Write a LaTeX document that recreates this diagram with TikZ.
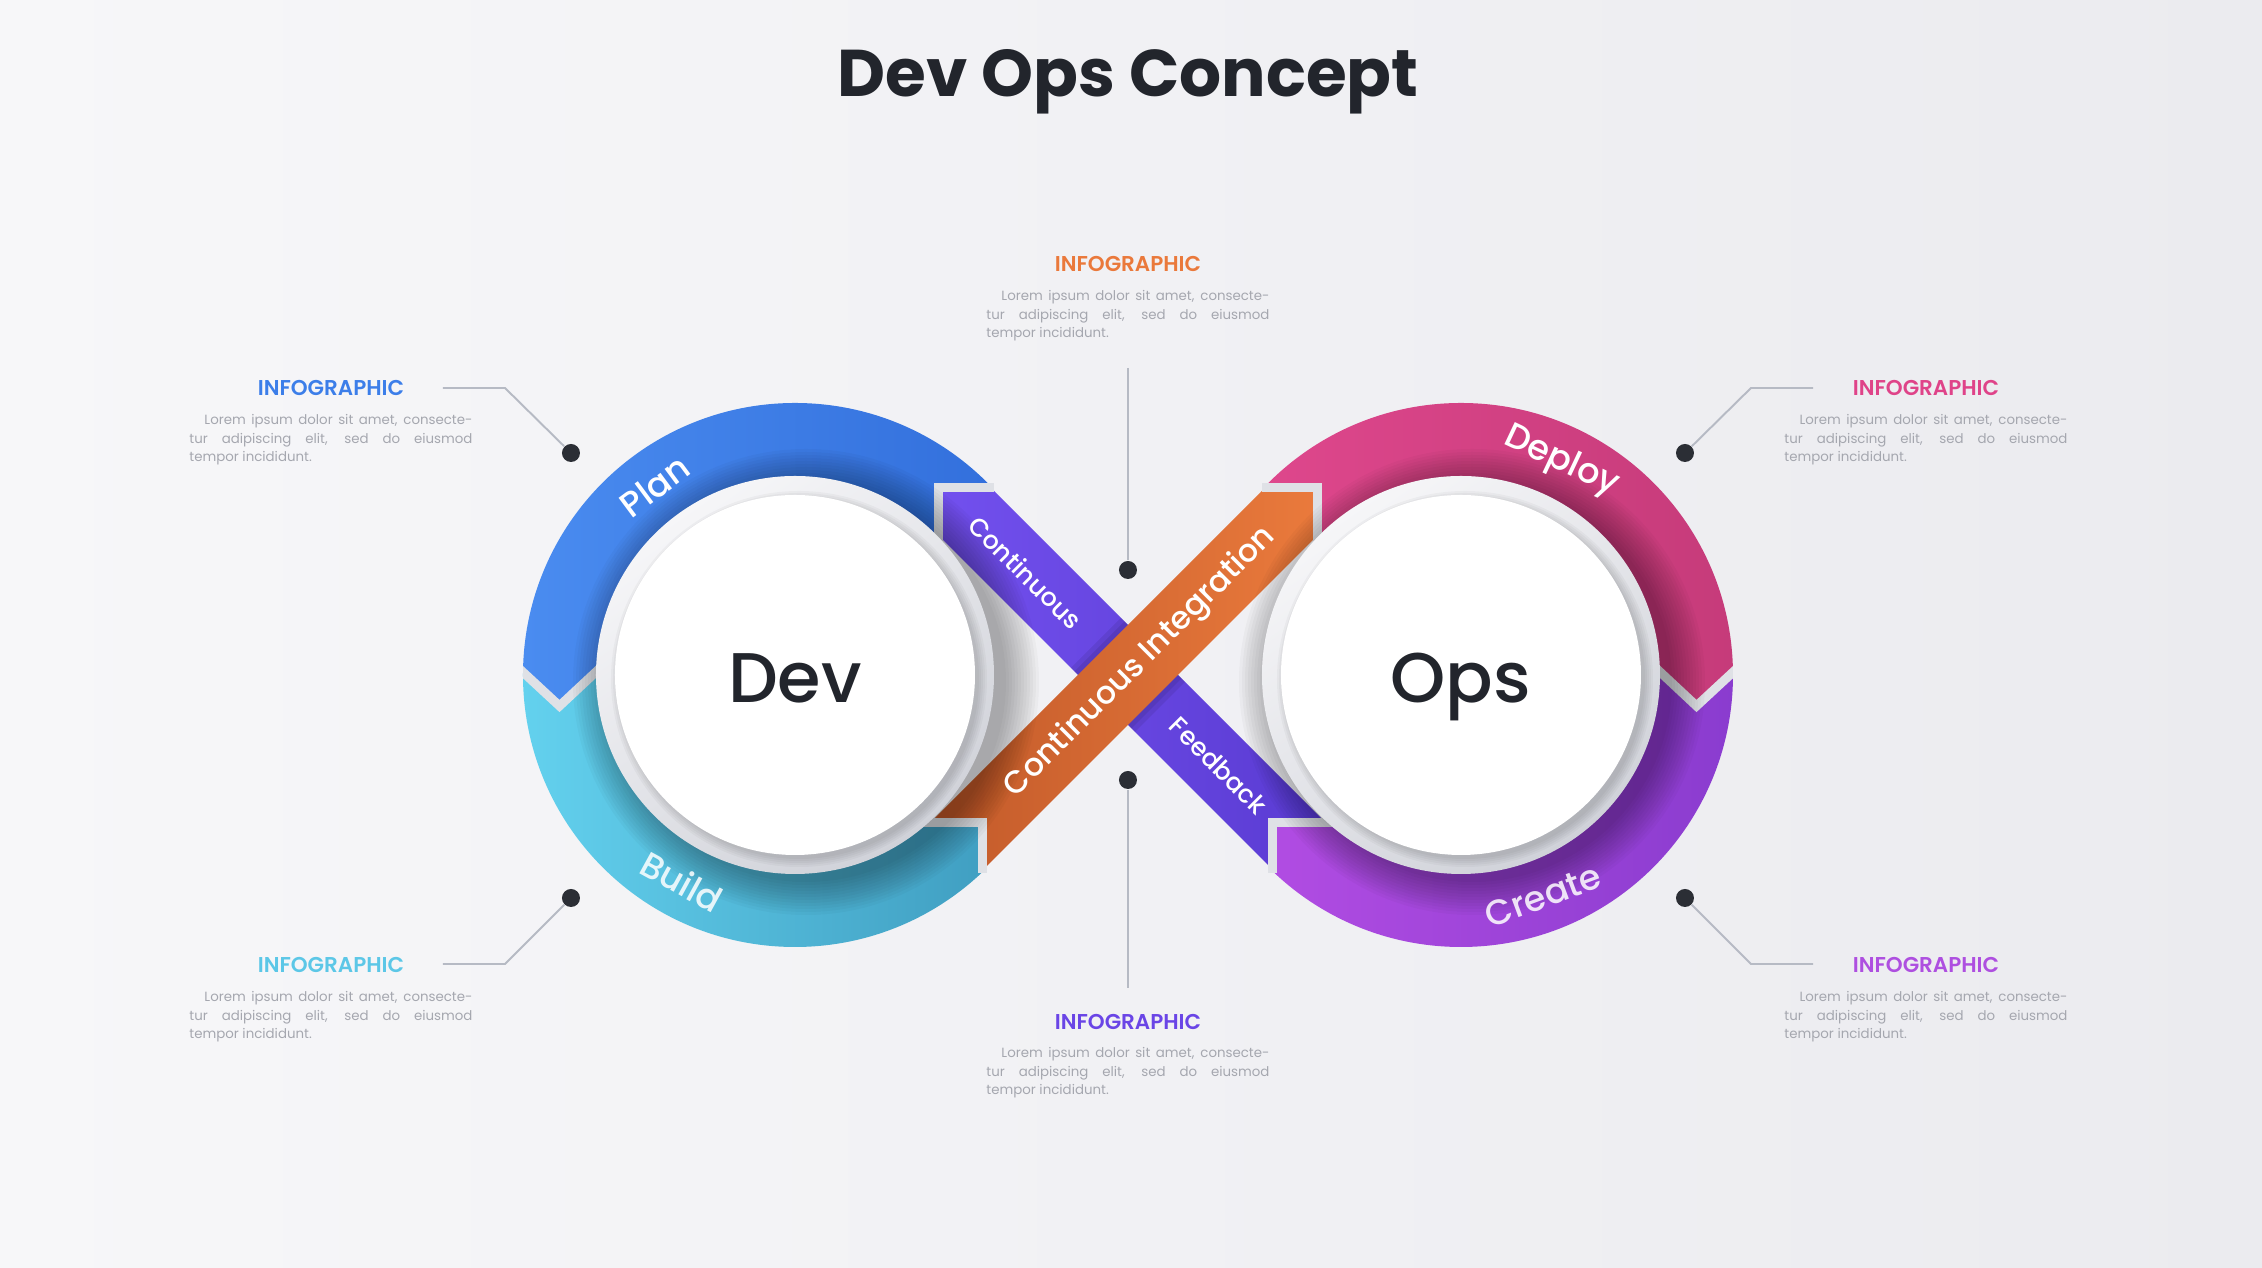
\documentclass[tikz,border=0pt]{standalone}
\usepackage{fontspec}
\setmainfont{Poppins}
\newfontfamily\semifont{Poppins SemiBold}
\newfontfamily\midfont{Poppins Medium}
\usetikzlibrary{calc}

\definecolor{bgleft}{HTML}{F7F7F9}
\definecolor{bgright}{HTML}{EBEBEF}
\definecolor{planA}{HTML}{4A8CF0}
\definecolor{planB}{HTML}{2F6BD9}
\definecolor{buildA}{HTML}{63D1EE}
\definecolor{buildB}{HTML}{3A96BA}
\definecolor{deployA}{HTML}{E2498F}
\definecolor{deployB}{HTML}{C63B7A}
\definecolor{createA}{HTML}{B84FE6}
\definecolor{createB}{HTML}{8A3CCF}
\definecolor{bandP}{HTML}{7250EE}
\definecolor{bandPdark}{HTML}{5A3BD2}
\definecolor{bandO}{HTML}{EA7A3C}
\definecolor{bandOdark}{HTML}{C25A2A}
\definecolor{seamgray}{HTML}{DFE1E6}
\definecolor{leadergray}{HTML}{B6BAC4}
\definecolor{dotgray}{HTML}{2B2E35}
\definecolor{ink}{HTML}{22252C}
\definecolor{bodygray}{HTML}{A5A7AF}
\definecolor{rimtop}{HTML}{F6F6F8}
\definecolor{rimbot}{HTML}{D0D2D9}
\definecolor{headblue}{HTML}{3C7EE9}
\definecolor{headorange}{HTML}{EA793B}
\definecolor{headpink}{HTML}{DF4389}
\definecolor{headcyan}{HTML}{5CC7E7}
\definecolor{headviolet}{HTML}{6A45E6}
\definecolor{headpurple}{HTML}{AE4FE0}

\def\lorem{\hspace*{1.5mm}Lorem ipsum dolor sit amet, consecte-\linebreak tur adipiscing elit, sed do eiusmod\linebreak tempor incididunt.}
\def\softdisc(#1){%
  \foreach \k in {1,...,12}{\fill[black,opacity=0.026] ($(#1)+(0.11,-0.07)$) circle ({1.97+0.03*\k});}
  \shade[top color=rimtop, bottom color=rimbot, shading angle=35] (#1) circle (1.99);
  \foreach \k in {1,...,5}{\fill[black,opacity=0.03] ($(#1)+(0.04,-0.04)$) circle ({1.78+0.02*\k});}
  \fill[white] (#1) circle (1.80);
}

\tikzset{
  seam/.style={line width=0.9mm, draw=seamgray, line cap=butt},
  leader/.style={draw=leadergray, line width=0.55pt},
  pindot/.style={circle, fill=dotgray, inner sep=0pt, minimum size=1.8mm},
  ringlabel/.style={text=white, font=\midfont\fontsize{10}{12}\selectfont},
  bandlabel/.style={text=white, font=\midfont\fontsize{7.2}{9}\selectfont},
  core/.style={text=ink, font=\midfont\fontsize{20}{24}\selectfont, anchor=base},
  head/.style={font=\semifont\fontsize{6.1}{7.5}\selectfont},
  body/.style={text=bodygray, text width=2.83cm, align=justify, inner sep=0pt, font=\fontsize{3.8}{5.25}\selectfont},
}

\begin{document}
\begin{tikzpicture}
  %%%%% frame %%%%%
  \useasboundingbox (-11.28,-5.93) rectangle (11.34,6.75);
  \shade[left color=bgleft, right color=bgright] (-11.28,-5.93) rectangle (11.34,6.75);

  \coordinate (dev) at (-3.33,0);
  \coordinate (ops) at (3.33,0);

  %%%%% ring segments %%%%%
  \begin{scope}
    \clip (-6.3,0.26) -- (-5.685,-0.31) -- (-5.0,0.33) -- (-1.895,0.33) -- (-1.895,1.875) -- (0,1.875) -- (0,3) -- (-6.3,3) -- cycle;
    \shade[left color=planA, right color=planB] (dev) circle (2.72);
  \end{scope}
  \begin{scope}
    \clip (-6.3,0.26) -- (-5.685,-0.31) -- (-5.0,0.33) -- (-2.4,0.33) -- (-2.4,-1.475) -- (-1.45,-1.475) -- (-1.45,-3) -- (-6.3,-3) -- cycle;
    \shade[left color=buildA, right color=buildB] (dev) circle (2.72);
  \end{scope}
  \begin{scope}
    \clip (6.3,0.26) -- (5.685,-0.31) -- (5.0,0.33) -- (1.895,0.33) -- (1.895,1.875) -- (0,1.875) -- (0,3) -- (6.3,3) -- cycle;
    \shade[left color=deployA, right color=deployB] (ops) circle (2.72);
  \end{scope}
  \begin{scope}
    \clip (6.3,0.26) -- (5.685,-0.31) -- (5.0,0.33) -- (2.4,0.33) -- (2.4,-1.475) -- (1.45,-1.475) -- (1.45,-3) -- (6.3,-3) -- cycle;
    \shade[left color=createA, right color=createB] (ops) circle (2.72);
  \end{scope}

  %%%%% bands %%%%%
  \shade[left color=bandP, right color=bandPdark] (-1.895,1.395) -- (-1.895,1.875) -- (-1.375,1.875) -- (1.975,-1.475) -- (1.45,-1.475) -- (1.45,-1.95) -- cycle;
  \begin{scope}
    \clip (-1.895,1.395) -- (-1.895,1.875) -- (-1.375,1.875) -- (1.975,-1.475) -- (1.45,-1.475) -- (1.45,-1.95) -- cycle;
    \fill[black,opacity=0.08] (-1.5,-0.86) -- (1.5,2.14) -- (1.5,0.86) -- (-1.5,-2.14) -- cycle;
    \fill[black,opacity=0.08] (-1.5,-0.93) -- (1.5,2.07) -- (1.5,0.93) -- (-1.5,-2.07) -- cycle;
  \end{scope}
  \shade[left color=bandOdark, right color=bandO] (1.375,1.875) -- (1.895,1.875) -- (1.895,1.395) -- (-1.45,-1.95) -- (-1.45,-1.475) -- (-1.975,-1.475) -- cycle;

  %%%%% seams %%%%%
  \draw[seam] (-1.895,1.30) -- (-1.895,1.875) -- (-1.34,1.875);
  \draw[seam] (-2.1,-1.475) -- (-1.45,-1.475) -- (-1.45,-1.98);
  \draw[seam] (1.895,1.30) -- (1.895,1.875) -- (1.34,1.875);
  \draw[seam] (2.1,-1.475) -- (1.45,-1.475) -- (1.45,-1.98);
  \begin{scope}
    \clip (dev) circle (2.72);
    \draw[seam] (-6.3,0.26) -- (-5.685,-0.31) -- (-5.0,0.33);
  \end{scope}
  \begin{scope}
    \clip (ops) circle (2.72);
    \draw[seam] (6.3,0.26) -- (5.685,-0.31) -- (5.0,0.33);
  \end{scope}

  %%%%% discs %%%%%
  \softdisc(dev)
  \softdisc(ops)
  \node[core] (devTxt) at (-3.33,-0.275) {Dev};
  \node[core] (opsTxt) at (3.33,-0.275) {Ops};

  %%%%% labels %%%%%
  \node[ringlabel, rotate=36.6] (plan) at ([shift={(126.6:2.355)}]dev) {Plan};
  \node[ringlabel, rotate=-28.7, text opacity=0.85] (build) at ([shift={(241.3:2.355)}]dev) {Build};
  \node[ringlabel, rotate=-25.2] (deploy) at ([shift={(64.8:2.355)}]ops) {Deploy};
  \node[ringlabel, rotate=20.4, text opacity=0.85] (create) at ([shift={(-69.6:2.355)}]ops) {Create};
  \node[bandlabel, rotate=-45] (contin) at (-1.025,1.025) {Continuous};
  \node[bandlabel, rotate=-45] (feedb) at (0.905,-0.905) {Feedback};
  \node[ringlabel, font=\midfont\fontsize{9}{11}\selectfont, rotate=45] (integ) at (0.125,0.125) {Continuous Integration};

  %%%%% title %%%%%
  \node[text=ink, font=\bfseries\fontsize{18.8}{22}\selectfont, anchor=base] (title) at (0,5.78) {Dev Ops Concept};

  %%%%% leaders %%%%%
  \node[pindot] (dotUp) at (0,1.05) {};
  \node[pindot] (dotDown) at (0,-1.05) {};
  \node[pindot] (dotPlan) at (-5.57,2.22) {};
  \node[pindot] (dotBuild) at (-5.57,-2.23) {};
  \node[pindot] (dotDeploy) at (5.57,2.22) {};
  \node[pindot] (dotCreate) at (5.57,-2.23) {};
  \coordinate (tailUp) at (0,3.07);
  \coordinate (tailDown) at (0,-3.13);
  \coordinate (bendPlan) at (-6.23,2.87);
  \coordinate (tailPlan) at (-6.85,2.87);
  \coordinate (bendBuild) at (-6.23,-2.89);
  \coordinate (tailBuild) at (-6.85,-2.89);
  \coordinate (bendDeploy) at (6.23,2.87);
  \coordinate (tailDeploy) at (6.85,2.87);
  \coordinate (bendCreate) at (6.23,-2.89);
  \coordinate (tailCreate) at (6.85,-2.89);
  \draw[leader] (tailUp) -- (dotUp);
  \draw[leader] (dotDown) -- (tailDown);
  \draw[leader] (tailPlan) -- (bendPlan) -- (dotPlan);
  \draw[leader] (tailBuild) -- (bendBuild) -- (dotBuild);
  \draw[leader] (tailDeploy) -- (bendDeploy) -- (dotDeploy);
  \draw[leader] (tailCreate) -- (bendCreate) -- (dotCreate);

  %%%%% text blocks %%%%%
  \node[head, text=headorange] (infoUp) at (0,4.11) {INFOGRAPHIC};
  \node[body] (txtUp) at (0,3.59) {\lorem};
  \node[head, text=headviolet] (infoDown) at (0,-3.47) {INFOGRAPHIC};
  \node[body] (txtDown) at (0,-3.98) {\lorem};
  \node[head, text=headblue] (infoPlan) at (-7.97,2.87) {INFOGRAPHIC};
  \node[body] (txtPlan) at (-7.97,2.35) {\lorem};
  \node[head, text=headcyan] (infoBuild) at (-7.97,-2.90) {INFOGRAPHIC};
  \node[body] (txtBuild) at (-7.97,-3.42) {\lorem};
  \node[head, text=headpink] (infoDeploy) at (7.98,2.87) {INFOGRAPHIC};
  \node[body] (txtDeploy) at (7.98,2.35) {\lorem};
  \node[head, text=headpurple] (infoCreate) at (7.98,-2.90) {INFOGRAPHIC};
  \node[body] (txtCreate) at (7.98,-3.42) {\lorem};
\end{tikzpicture}
\end{document}
